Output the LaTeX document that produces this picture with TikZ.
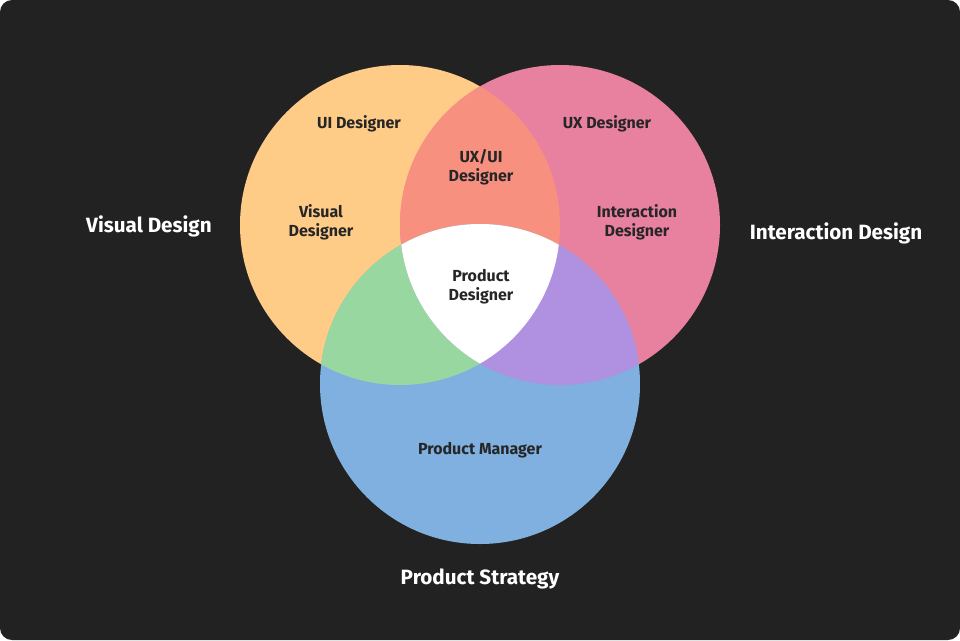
\documentclass[tikz,border=0pt]{standalone}
\usepackage{fontspec}
\setmainfont{Fira Sans}
\begin{document}
\begin{tikzpicture}[x=0.75pt,y=-0.75pt,
  lbl/.style={font=\bfseries\fontsize{12}{14}\selectfont,text=black!85,align=center},
  big/.style={font=\bfseries\fontsize{15.5}{18}\selectfont,text=white}]
\definecolor{bgc}{HTML}{222222}
\definecolor{cl}{HTML}{FFCC88}
\definecolor{cr}{HTML}{E880A0}
\definecolor{cb}{HTML}{80B0E0}
\definecolor{clr}{HTML}{F89080}
\definecolor{clb}{HTML}{98D8A0}
\definecolor{crb}{HTML}{B090E0}
\useasboundingbox (0,0) rectangle (960,640);
\fill[white] (0,0) rectangle (960,640);
\fill[bgc,rounded corners=9pt] (0,0) rectangle (960,640);
\def\L{(400,225) circle (160)}
\def\R{(560,225) circle (160)}
\def\B{(480,384) circle (160)}
\fill[cl] \L; \fill[cr] \R; \fill[cb] \B;
\begin{scope}\clip \L; \fill[clr] \R; \fill[clb] \B; \end{scope}
\begin{scope}\clip \R; \fill[crb] \B; \end{scope}
\begin{scope}\clip \L; \clip \R; \fill[white] \B; \end{scope}
\node[lbl] (ui) at (359,124) {UI Designer};
\node[lbl] (vd) at (321,222) {Visual\\Designer};
\node[lbl] (uxui) at (481,167) {UX/UI\\Designer};
\node[lbl] (ux) at (607,124) {UX Designer};
\node[lbl] (id) at (637,222) {Interaction\\Designer};
\node[lbl] (pd) at (481,287) {Product\\Designer};
\node[lbl] (pm) at (480,450) {Product Manager};
\node[big] (v) at (149,226) {Visual Design};
\node[big] (i) at (836,233) {Interaction Design};
\node[big] (p) at (480,579) {Product Strategy};
\end{tikzpicture}
\end{document}
